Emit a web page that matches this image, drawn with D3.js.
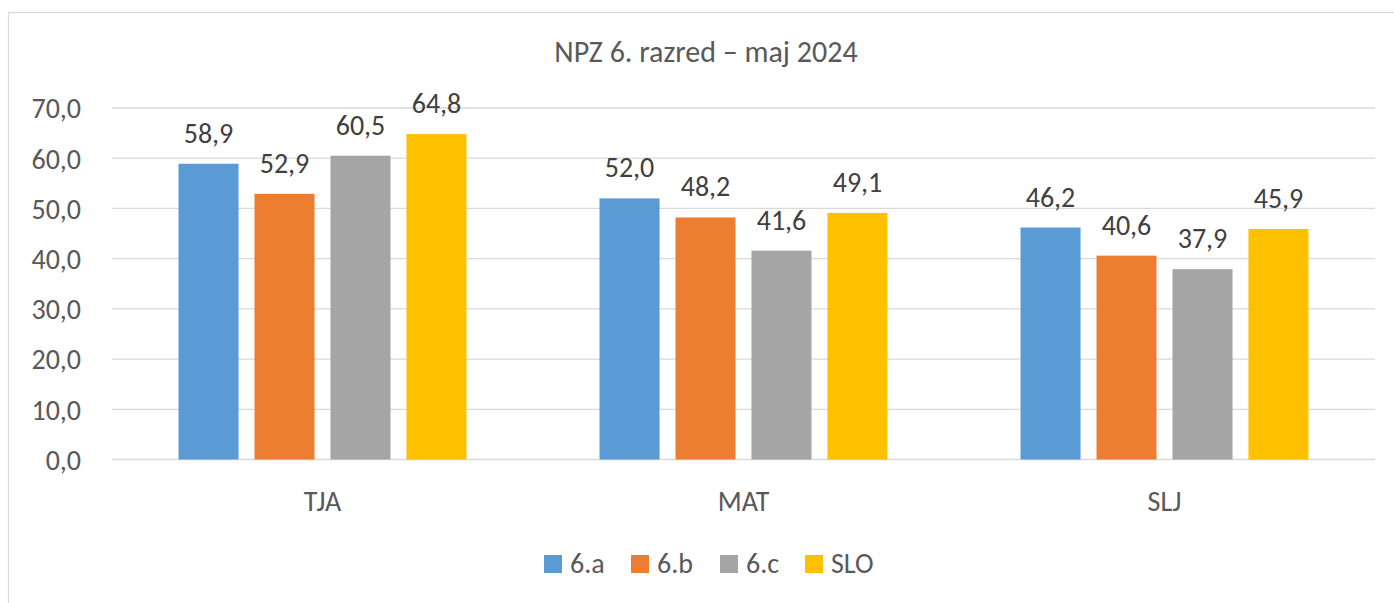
<!DOCTYPE html>
<html>
<head>
<meta charset="utf-8">
<script src="https://cdn.jsdelivr.net/npm/d3@7"></script>
<style>
  html, body { margin: 0; padding: 0; background: #fff; }
  svg { display: block; font-family: Carlito, Calibri, Lato, "Open Sans", sans-serif; }
</style>
</head>
<body>
<svg id="chart" width="1394" height="603"></svg>
<script>
const categories = ["TJA", "MAT", "SLJ"];
const seriesNames = ["6.a", "6.b", "6.c", "SLO"];
const seriesColors = ["#5B9BD5", "#ED7D31", "#A5A5A5", "#FFC000"];
const values6a = [58.9, 52.0, 46.2];
const values6b = [52.9, 48.2, 40.6];
const values6c = [60.5, 41.6, 37.9];
const valuesSLO = [64.8, 49.1, 45.9];
const yTicks = [0, 10, 20, 30, 40, 50, 60, 70];
const title = "NPZ 6. razred – maj 2024";

const seriesValues = [values6a, values6b, values6c, valuesSLO];

const svg = d3.select("#chart");
const fmt = (v) => d3.format(".1f")(v).replace(".", ",");

const PLOT = { left: 112, right: 1375, top: 108, bottom: 459.5 };

// chart frame
svg
  .append("rect")
  .attr("x", 8.5)
  .attr("y", 12.5)
  .attr("width", 1400)
  .attr("height", 620)
  .attr("fill", "none")
  .attr("stroke", "#d9d9d9")
  .attr("stroke-width", 1.3);

svg
  .append("text")
  .attr("x", 706)
  .attr("y", 62)
  .attr("text-anchor", "middle")
  .attr("font-size", 30)
  .attr("fill", "#595959")
  .text(title);

const xScale = d3
  .scaleBand()
  .domain(categories)
  .range([PLOT.left, PLOT.right])
  .paddingInner(0.316)
  .paddingOuter(0.158);

const xInner = d3
  .scaleBand()
  .domain(seriesNames)
  .range([0, xScale.bandwidth()])
  .paddingInner(0.21)
  .paddingOuter(0);

const yScale = d3.scaleLinear().domain([0, 70]).range([PLOT.bottom, PLOT.top]);

// gridlines
svg
  .append("g")
  .selectAll("line")
  .data(yTicks)
  .join("line")
  .attr("x1", PLOT.left)
  .attr("x2", PLOT.right)
  .attr("y1", (d) => yScale(d))
  .attr("y2", (d) => yScale(d))
  .attr("stroke", "#d9d9d9")
  .attr("stroke-width", 1.3);

// y axis labels
const yAxis = d3.axisLeft(yScale).tickValues(yTicks).tickFormat(fmt).tickSize(0).tickPadding(31);
const yAxisG = svg
  .append("g")
  .attr("transform", `translate(${PLOT.left}, 0)`)
  .call(yAxis)
  .attr("font-family", null)
  .attr("font-size", 28);
yAxisG.select(".domain").remove();
yAxisG
  .selectAll("text")
  .attr("fill", "#595959")
  .attr("dy", "0.35em");

// x axis labels
const xAxis = d3.axisBottom(xScale).tickSize(0).tickPadding(32);
const xAxisG = svg
  .append("g")
  .attr("transform", `translate(0, ${PLOT.bottom})`)
  .call(xAxis)
  .attr("font-family", null)
  .attr("font-size", 28);
xAxisG.select(".domain").remove();
xAxisG.selectAll("text").attr("fill", "#595959");

// bars
const barData = [];
categories.forEach((cat, ci) => {
  seriesNames.forEach((s, si) => {
    barData.push({ cat, s, si, v: seriesValues[si][ci] });
  });
});

svg
  .append("g")
  .selectAll("rect")
  .data(barData)
  .join("rect")
  .attr("x", (d) => xScale(d.cat) + xInner(d.s))
  .attr("width", xInner.bandwidth())
  .attr("y", (d) => yScale(d.v))
  .attr("height", (d) => yScale(0) - yScale(d.v))
  .attr("fill", (d) => seriesColors[d.si]);

svg
  .append("g")
  .selectAll("text")
  .data(barData)
  .join("text")
  .attr("x", (d) => xScale(d.cat) + xInner(d.s) + xInner.bandwidth() / 2)
  .attr("y", (d) => yScale(d.v) - 21)
  .attr("text-anchor", "middle")
  .attr("font-size", 28)
  .attr("fill", "#404040")
  .text((d) => fmt(d.v));

// legend
const legendX = [544, 631, 720, 805];
const legend = svg
  .append("g")
  .selectAll("g")
  .data(seriesNames)
  .join("g")
  .attr("transform", (d, i) => `translate(${legendX[i]}, 555)`);

legend
  .append("rect")
  .attr("width", 18)
  .attr("height", 18)
  .attr("fill", (d, i) => seriesColors[i]);

legend
  .append("text")
  .attr("x", 26)
  .attr("y", 18)
  .attr("font-size", 28)
  .attr("fill", "#595959")
  .text((d) => d);
</script>
</body>
</html>
